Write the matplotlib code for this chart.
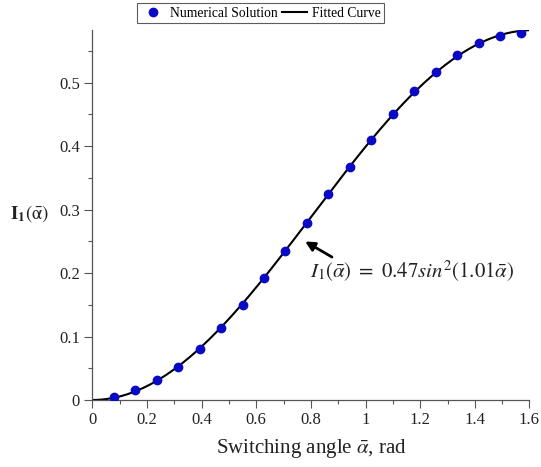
import numpy as np
import matplotlib
matplotlib.use("Agg")
import matplotlib.pyplot as plt
from matplotlib.ticker import MultipleLocator, FuncFormatter

# Data
alpha_vals = [0.0785, 0.1571, 0.2356, 0.3142, 0.3927, 0.4712, 0.5498, 0.6283,
              0.7069, 0.7854, 0.8639, 0.9425, 1.0210, 1.0996, 1.1781, 1.2566,
              1.3352, 1.4137, 1.4923, 1.5708]
i1_vals = [0.005, 0.015, 0.031, 0.052, 0.080, 0.113, 0.150, 0.192,
           0.235, 0.279, 0.324, 0.367, 0.409, 0.450, 0.487, 0.517,
           0.543, 0.563, 0.574, 0.579]
x_ticks = [0, 0.2, 0.4, 0.6, 0.8, 1, 1.2, 1.4, 1.6]
y_ticks = [0, 0.1, 0.2, 0.3, 0.4, 0.5]

x = np.array(alpha_vals)
y = np.array(i1_vals)

# least-squares fit of A*sin^2(b*x) to the points
best = None
for b in np.linspace(0.8, 1.2, 4001):
    s = np.sin(b * x) ** 2
    A = (s @ y) / (s @ s)
    err = np.sum((A * s - y) ** 2)
    if best is None or err < best[0]:
        best = (err, A, b)
_, A_fit, b_fit = best
xc = np.linspace(0, 1.595, 400)
yc = A_fit * np.sin(b_fit * xc) ** 2

plt.rcParams['mathtext.fontset'] = 'stix'
plt.rcParams['font.family'] = ['Liberation Serif', 'DejaVu Serif']

fig = plt.figure(figsize=(5.41, 4.67), dpi=100)
ax = fig.add_axes([0.1706, 0.1435, 0.8081, 0.7923])

ax.plot(xc, yc, color='black', lw=1.5, label='Fitted Curve', zorder=2)
ax.plot(x, y, 'o', color='#0A0AC4', markersize=6, label='Numerical Solution', zorder=3)

ax.set_xlim(0, 1.6)
ax.set_ylim(0, 0.583)
ax.set_xticks(x_ticks)
ax.set_yticks(y_ticks)
ax.xaxis.set_minor_locator(MultipleLocator(0.1))
ax.yaxis.set_minor_locator(MultipleLocator(0.05))
fmt = FuncFormatter(lambda v, p: f"{v:g}")
ax.xaxis.set_major_formatter(fmt)
ax.yaxis.set_major_formatter(fmt)
ax.tick_params(which='major', length=6, width=0.8, colors='#555555', labelcolor='#222222',
               labelsize=12, pad=3)
ax.tick_params(which='minor', length=3, width=0.8, colors='#555555')

for s in ['top', 'right']:
    ax.spines[s].set_visible(False)
for s in ['left', 'bottom']:
    ax.spines[s].set_color('#555555')
    ax.spines[s].set_linewidth(0.9)

ax.set_xlabel(r'Switching angle $\bar{\alpha}$, rad', fontsize=15, color='#222222', labelpad=6)
fig.text(0.018, 0.543, r'$\mathbf{I}_\mathbf{1}(\bar{\mathrm{\alpha}})$', fontsize=13.5,
         va='center', ha='left', color='#222222')

ax.annotate('', xy=(0.770, 0.252), xytext=(0.886, 0.223),
            arrowprops=dict(arrowstyle='-|>', color='black', lw=2, mutation_scale=14))
ax.text(0.795, 0.203, r'$I_1(\bar{\alpha})\ =\ 0.47sin^2(1.01\bar{\alpha})$', fontsize=15,
        va='center', ha='left', color='#222222')

h, l = ax.get_legend_handles_labels()
leg = fig.legend([h[1], h[0]], [l[1], l[0]], loc='upper center', bbox_to_anchor=(0.482, 0.993),
                 ncol=2, fontsize=9.8, frameon=True, fancybox=False, edgecolor='#333333',
                 handlelength=1.8, handletextpad=0.4, columnspacing=0.3, borderpad=0.25,
                 borderaxespad=0)
leg.get_frame().set_linewidth(0.8)

fig.savefig('out.png', dpi=100)
